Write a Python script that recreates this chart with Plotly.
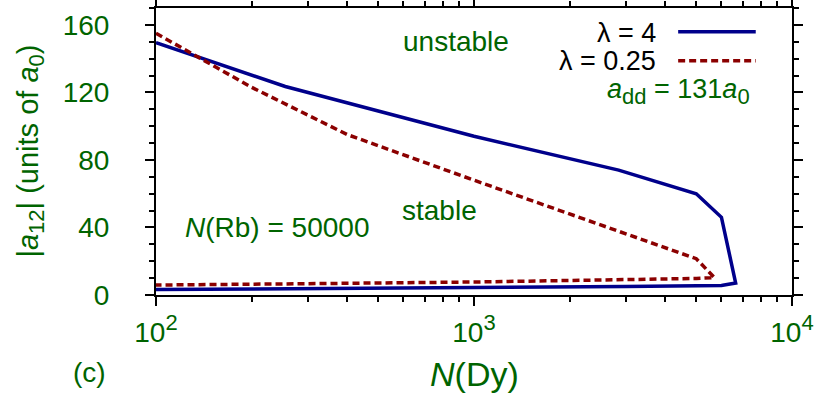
import plotly.graph_objects as go

# ---- data ----
lam4_N = [100, 255, 1000, 2850, 5000, 6000, 6650, 6000, 3000, 1000, 300, 100]
lam4_a = [149.5, 123.5, 94, 74, 60, 46, 7.1, 5.6, 5.1, 4.4, 3.8, 3.2]
lam025_N = [100, 200, 400, 1000, 5000, 5700, 5000, 3000, 1000, 300, 100]
lam025_a = [155, 123, 95, 68, 21.5, 10.3, 9.8, 9.0, 7.7, 6.7, 5.9]
xtick_vals = [100, 1000, 10000]
xtick_text = ['10<sup><span style="font-size:22px">%d</span></sup>' % k for k in (2, 3, 4)]
ytick_vals = [0, 40, 80, 120, 160]

GREEN = "#006400"
BLUE = "#00008B"
RED = "#8B0000"
FONT = "Liberation Sans, Arial, sans-serif"
FS = 28
FA = 28
FL = 27

fig = go.Figure()
fig.add_trace(go.Scatter(x=lam4_N, y=lam4_a, mode="lines",
                         line=dict(color=BLUE, width=3.5), name="λ = 4",
                         showlegend=False))
fig.add_trace(go.Scatter(x=lam025_N, y=lam025_a, mode="lines",
                         line=dict(color=RED, width=3.5, dash="7px,4px"),
                         name="λ = 0.25", showlegend=False))

axis_common = dict(showline=True, linecolor="black", linewidth=2,
                   mirror="ticks", ticks="outside", tickcolor="black",
                   tickwidth=1.5, showgrid=False, zeroline=False,
                   automargin=False,
                   tickfont=dict(family=FONT, size=FS, color=GREEN))

fig.update_xaxes(type="log", range=[2, 4], tickvals=xtick_vals,
                 ticktext=xtick_text, ticklen=9, ticklabelstandoff=2,
                 minor=dict(ticks="outside", ticklen=5, tickcolor="black",
                            tickwidth=1.5, dtick="D1", showgrid=False),
                 **axis_common)
fig.update_yaxes(range=[0, 170], tickvals=ytick_vals, ticklen=9,
                 ticklabelposition="outside", ticklabelstandoff=30,
                 minor=dict(ticks="outside", ticklen=5, tickcolor="black",
                            tickwidth=1.5, dtick=10, showgrid=False),
                 **axis_common)

def ann(text, x, y, xref="paper", yref="paper", xanchor="center",
        color=GREEN, size=FA, textangle=0):
    fig.add_annotation(text=text, x=x, y=y, xref=xref, yref=yref,
                       xanchor=xanchor, yanchor="middle", showarrow=False,
                       textangle=textangle,
                       font=dict(family=FONT, size=size, color=color))

SUB = '<sub><span style="font-size:22px">%s</span></sub>'

# region labels (data coordinates; log axis uses log10 for x)
ann("unstable", 2.943, 150, xref="x", yref="y")
ann("stable", 2.893, 50, xref="x", yref="y")
ann("<i>N</i>(Rb) = 50000", 2.38, 40, xref="x", yref="y")

# legend (text followed by line sample)
ann("λ = 4", 0.789, 0.913, xanchor="right", color="black", size=FL)
ann("λ = 0.25", 0.789, 0.816, xanchor="right", color="black", size=FL)
fig.add_shape(type="line", xref="paper", yref="paper", x0=0.821, x1=0.943,
              y0=0.917, y1=0.917, line=dict(color=BLUE, width=3.5))
fig.add_shape(type="line", xref="paper", yref="paper", x0=0.821, x1=0.943,
              y0=0.816, y1=0.816, line=dict(color=RED, width=3.5, dash="7px,4px"))
ann("<i>a</i>" + SUB % "dd" + " = 131<i>a</i>" + SUB % "0", 0.937, 0.708,
    xanchor="right", size=FL)

# axis titles and panel label
ann("<i>N</i>(Dy)", 0.5, -0.275, size=34)
ann("|<i>a</i>" + SUB % "12" + "| (units of <i>a</i>" + SUB % "0" + ")",
    -0.198, 0.5, textangle=-90, size=29)
ann("(c)", -0.104, -0.27)

fig.update_layout(width=830, height=396,
                  margin=dict(l=156, r=38, t=8, b=101, autoexpand=False),
                  plot_bgcolor="white", paper_bgcolor="white",
                  font=dict(family=FONT, size=FS, color=GREEN))

fig.write_html("out.html", config={"displayModeBar": False},
               post_script="document.body.style.margin='0px';")
